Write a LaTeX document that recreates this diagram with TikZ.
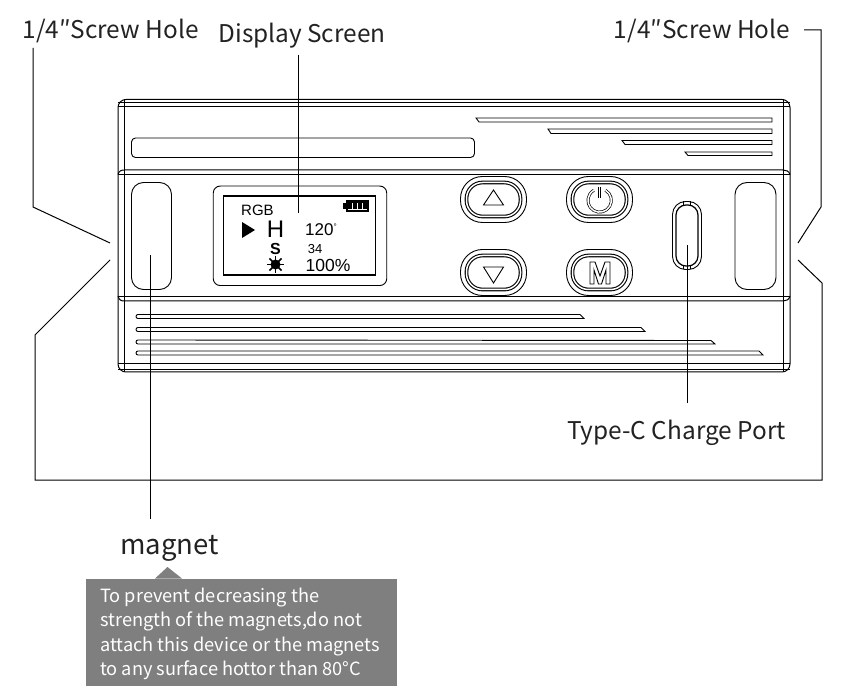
\documentclass[tikz,border=0pt]{standalone}
\usepackage{fontspec}
\setmainfont{Noto Sans CJK SC}
\newfontfamily\lcdfont{Liberation Sans}
\definecolor{notegray}{HTML}{7F7F7F}
\definecolor{labelink}{HTML}{222222}
\tikzset{
	calllabel/.style={text=labelink, inner sep=0pt, font=\fontsize{24.4}{28}\selectfont},
	leader/.style={line width=1pt},
	bodyline/.style={line width=1pt},
	thinline/.style={line width=0.9pt},
	lcdtext/.style={inner sep=0pt, font=\lcdfont\fontsize{#1}{#1}\selectfont},
	keyouter/.style={draw, thinline, minimum width=66pt, minimum height=46pt, rounded corners=22pt, inner sep=0pt},
	keyinner/.style={draw, double, line width=1.1pt, double distance=1.5pt, minimum width=54pt, minimum height=34pt, rounded corners=16pt, inner sep=0pt},
	iconline/.style={double, line width=0.7pt, double distance=1.5pt}
}
\begin{document}
\begin{tikzpicture}[x=1pt, y=-1pt]
	\useasboundingbox (0,0) rectangle (863,695);
	% Body
	\draw[bodyline, rounded corners=8pt] (118,99.5) rectangle (790,372);
	\draw[bodyline] (124.5,99.5) -- (124.5,372) (783,99.5) -- (783,372);
	\foreach \y in {103,107,174.5,297,364,369.5} {
		\draw[bodyline] (118,\y) -- (790,\y);
	}
	\draw[bodyline] (118,174.5) .. controls (119,171) and (121,170) .. (124.5,170) -- (783,170) .. controls (786,170) and (789,171) .. (790,174.5);
	\draw[bodyline] (118,296) .. controls (119,300) and (121,301) .. (124.5,301) -- (783,301) .. controls (786,301) and (789,300) .. (790,296);
	\draw[thinline, rounded corners=4pt] (131.5,138) rectangle (474.5,157.5);
	% Top slots
	\foreach \x/\y/\h in {476/118/4,548/129/4.5,622/140.5/4,685/152/3.5} {
		\draw[thinline] (\x,\y) -- (772,\y) -- (772,\y+\h) -- (\x+3,\y+\h) -- cycle;
	}
	% Bottom slots
	\foreach \x/\y/\h in {584/314.5/4,645/327.5/4,715/340.5/3.5,763/351/4} {
		\draw[thinline] (\x,\y+\h) -- (138,\y+\h) arc (90:270:2) -- (\x-4,\y) -- cycle;
	}
	% Magnets
	\node[draw, thinline, minimum width=40pt, minimum height=107pt, rounded corners=12pt, inner sep=0pt] (magnetleft) at (151.5,236) {};
	\node[draw, thinline, minimum width=41pt, minimum height=107pt, rounded corners=12pt, inner sep=0pt] (magnetright) at (755.5,236) {};
	% Display
	\node[draw, thinline, minimum width=173.5pt, minimum height=99.5pt, rounded corners=7pt, inner sep=0pt] (lcdframe) at (300,235.8) {};
	\node[draw, line width=1.6pt, minimum width=152pt, minimum height=79pt, inner sep=0pt] (lcd) at (299.5,235.5) {};
	\node[lcdtext=15] (rgb) at (257.5,210) {RGB};
	\node[fill=black, inner sep=0pt, minimum width=23pt, minimum height=12pt] (battery) at (357.5,206.5) {};
	\node[fill=black, inner sep=0pt, minimum width=3pt, minimum height=6pt, anchor=east] (batterytip) at (battery.west) {};
	\foreach \x in {352,357,362} {
		\draw[white, line width=0.9pt] (\x,203) -- (\x,209.5);
	}
	\draw[white, line width=0.9pt] (348,209.8) -- (367,209.8);
	\fill (242,222) -- (255,230) -- (242,238) -- cycle;
	\node[lcdtext=24] (hue) at (275.5,229.5) {H};
	\node[lcdtext=17] (huevalue) at (321,230) {120\raisebox{6pt}{\fontsize{8}{8}\selectfont°}};
	\node[lcdtext=16, font=\lcdfont\bfseries\fontsize{16}{16}\selectfont] (sat) at (275.5,248.5) {S};
	\node[lcdtext=13] (satvalue) at (315,249) {34};
	\node[fill=black, circle, inner sep=0pt, minimum size=10pt] (sun) at (275.5,264.5) {};
	\foreach \a in {0,45,...,315} {
		\draw[line width=1.6pt] (sun.center) -- ++(\a:8.5);
	}
	\node[lcdtext=17.5] (brightness) at (328,265) {100\%};
	% Keys
	\foreach \k/\x/\y in {up/493.5/199.5,power/599.5/199.5,down/493.5/272.5,mode/599.5/272.5} {
		\node[keyouter] (key\k) at (\x,\y) {};
		\node[keyinner] (inner\k) at (\x,\y) {};
	}
	\draw[thinline] (483.5,205) -- (493.5,190) -- (503.5,205) -- cycle;
	\draw[thinline] (483.5,267) -- (493.5,283) -- (503.5,267) -- cycle;
	\draw[iconline] (605.5,190.3) arc (-60:240:11.7);
	\draw[iconline] (599.7,187) -- (599.7,198.5);
	\draw[thinline] (590,284) -- (590,262) -- (595,262) -- (600,276) -- (605,262) -- (610,262) -- (610,284) -- (606,284) -- (606,270) -- (601.5,284) -- (598.5,284) -- (594,270) -- (594,284) -- cycle;
	% Charge port
	\node[draw, thinline, minimum width=29pt, minimum height=68pt, rounded corners=13pt, inner sep=0pt] (portouter) at (687,235.5) {};
	\node[draw, line width=1.2pt, minimum width=22pt, minimum height=61pt, rounded corners=10pt, inner sep=0pt] (portinner) at (687,235.5) {};
	\foreach \x in {683.5,690.5} {
		\draw[thinline] (\x,201.5) -- (\x,205);
		\draw[thinline] (\x,266) -- (\x,269.5);
	}
	% Labels
	\node[calllabel] (holeleft) at (110.5,31) {1/4″Screw Hole};
	\node[calllabel] (screenlabel) at (302,36) {Display Screen};
	\node[calllabel] (holeright) at (702,31) {1/4″Screw Hole};
	\node[calllabel] (portlabel) at (676.5,433) {Type-C Charge Port};
	\node[calllabel, font=\fontsize{27.5}{32}\selectfont] (magnetlabel) at (169.5,548) {magnet};
	% Note
	\fill[notegray] (155,578.5) -- (167.5,567) -- (182,578.5) -- cycle;
	\node[fill=notegray, anchor=north west, minimum width=311pt, minimum height=107.5pt, inner sep=0pt] (note) at (86,578.3) {};
	\node[text=white, anchor=north west, inner sep=0pt, align=left, font=\fontsize{18.2}{24.5}\selectfont] (notetext) at (100,587.5) {To prevent decreasing the\\strength of the magnets,do not\\attach this device or the magnets\\to any surface hottor than 80°C};
	% Leaders
	\coordinate (screenend) at (298,213);
	\coordinate (magnetend) at (150,255);
	\coordinate (portend) at (687.5,245);
	\draw[leader] (33,48) -- (33,207) -- (110,243);
	\draw[leader] (110,260) -- (35,335) -- (35,480) -- (822,480) -- (822,283) -- (798,260);
	\draw[leader] (804,30) -- (821,30) -- (821,207) -- (798,243);
	\draw[leader] (298,55) -- (screenend);
	\draw[leader] (150,519) -- (magnetend);
	\draw[leader] (687.5,403) -- (portend);
\end{tikzpicture}
\end{document}
